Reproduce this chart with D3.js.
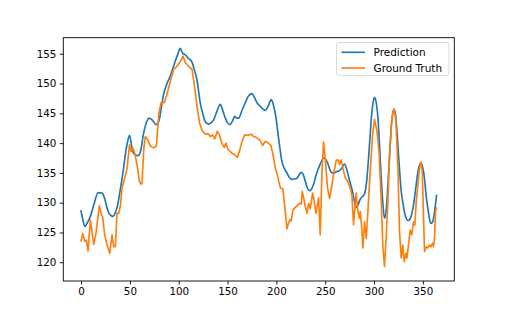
<!DOCTYPE html>
<html>
<head>
<meta charset="utf-8">
<script src="https://cdn.jsdelivr.net/npm/d3@7.9.0/dist/d3.min.js"></script>
<style>
  body { margin: 0; background: #fff; }
  text { font-family: "DejaVu Sans", sans-serif; }
</style>
</head>
<body>
<div id="chart"></div>
<script>
// prediction curve
const predDay = [0, 2, 4, 6, 9.5, 13, 17.4, 21.5, 24, 26.6, 29, 32.7, 35, 37, 42, 47, 49.6, 52.8, 55.6, 58.3,
  60.7, 64.1, 67, 69.5, 72.7, 77, 79.5, 84.5, 88, 91.4, 96.5, 99, 101.6, 104, 106.8, 110.1, 113.6, 116, 118.7, 122,
  124.5, 127.2, 130.6, 133, 135.7, 139, 142.6, 145, 147.7, 150, 152.3, 155, 157.2, 159.5, 161.3, 165, 168.2, 171, 175, 177.5,
  180.1, 184, 188.6, 191.5, 194.8, 196.8, 198.9, 202.3, 205.7, 208, 210.8, 213, 216, 219, 221.1, 223, 225.5, 227.5, 229.6, 231.5,
  233.7, 236, 238.1, 241, 243.2, 246, 248.3, 250.5, 252.4, 254.5, 256.9, 259, 261.3, 264, 266.5, 269.8, 272, 273.9, 276, 278,
  280, 281.8, 284, 285.9, 288, 290.3, 292.2, 294.4, 296.1, 297.8, 299, 300.5, 302, 304, 305.7, 307.4, 309, 310.7, 312.5,
  314.2, 316, 317.6, 320, 321.5, 323.4, 325.5, 327.8, 330, 332, 335, 337, 339.8, 342, 343.9, 346, 348, 350, 351.4, 353.5,
  355.8, 358, 360, 362, 364];
const prediction = [128.6, 127.0, 126.0, 126.5, 127.7, 129.6, 131.7, 131.6, 130.8, 129.1, 128.1, 127.7, 128.3, 129.3, 134.1, 139.7, 141.3, 138.6, 138.0, 137.9,
  138.5, 141.7, 143.5, 144.2, 143.9, 143.1, 143.6, 148.2, 150.0, 151.3, 153.8, 154.9, 155.9, 155.1, 154.8, 154.2, 153.6, 152.3, 150.6, 146.8,
  145.0, 143.6, 143.2, 143.4, 143.9, 145.3, 146.5, 145.5, 144.2, 143.4, 143.1, 143.7, 144.5, 144.2, 144.2, 145.6, 146.8, 147.8, 148.3, 147.7,
  146.8, 146.1, 145.5, 146.2, 147.3, 146.5, 145.0, 140.8, 136.9, 135.8, 135.0, 134.3, 133.9, 134.0, 134.1, 134.6, 135.1, 134.7, 133.6, 132.6,
  132.0, 132.3, 133.1, 134.8, 135.8, 136.9, 137.5, 137.3, 136.7, 135.7, 135.0, 135.0, 135.2, 135.3, 135.7, 136.5, 135.6, 134.4, 133.1, 131.9,
  130.2, 129.2, 129.8, 130.6, 131.0, 131.5, 133.2, 137.5, 141.5, 145.2, 146.8, 147.7, 147.0, 144.2, 139.5, 134.1, 130.0, 127.4, 128.8,
  133.0, 138.0, 142.6, 145.6, 145.3, 142.2, 137.0, 132.0, 129.5, 127.8, 127.0, 127.3, 129.0, 131.5, 134.0, 136.0, 136.7, 135.8, 134.4, 131.0,
  128.3, 126.5, 126.8, 128.5, 131.2];

// ground truth
const truthDay = [0, 1.7, 3.7, 5.4, 7.1, 9.5, 10.5, 12.9, 15.3, 18.7, 20.8, 22.1, 24.2, 26.6, 29.3, 31.7, 33.4, 35.1, 36.8, 38.6,
  40.2, 42, 44.6, 47.1, 49.6, 51.1, 52.8, 54.5, 57.3, 59.7, 61.5, 62.4, 64.3, 65.8, 68.2, 70.9, 74.3, 77.1, 79.5, 81.9,
  85.3, 88, 91.4, 94.8, 98.3, 101.6, 104.4, 106.8, 110.1, 113.6, 116, 118.7, 121.4, 123.8, 127.2, 130, 132.3, 134.6, 136.8, 139.5,
  141.6, 144.3, 146.7, 148.4, 150.4, 152.8, 154.5, 157.2, 160, 162.3, 164.8, 167.5, 170.9, 174.3, 176.7, 180.1, 183.5, 185.9, 188.6, 192,
  194.4, 196.5, 198.9, 201.2, 204, 206.7, 209.1, 210.8, 212.5, 214.2, 215.2, 217, 219.4, 221.7, 223.8, 225.5, 226.5, 227.9, 229.6, 231.3,
  233, 234.7, 237.1, 238.8, 240.5, 243.2, 244.9, 246.7, 248.3, 250, 252.4, 254.5, 256.9, 259.2, 261.3, 263, 264.7, 266.4, 268.8, 270.5,
  272.9, 275.6, 277.4, 279, 280.1, 281.8, 283.1, 284.9, 285.9, 287.6, 288.6, 290.3, 292, 293.7, 296.1, 298.5, 300.5, 303, 305.3, 307.4,
  309.1, 310.7, 312.4, 314.2, 315.9, 318.3, 320.4, 322.4, 324.5, 326.1, 327.8, 329.5, 330.9, 332.6, 333.7, 335.3, 337, 338.7, 340.4, 341.8,
  343.2, 344.9, 346.6, 348, 349.4, 350.7, 351.7, 353.4, 355.1, 356.8, 358.2, 359.9, 360.9, 361.9, 363, 364];
const groundTruth = [123.6, 124.8, 123.5, 123.7, 121.9, 127.1, 126.0, 123.0, 124.9, 129.5, 128.0, 127.6, 124.6, 122.9, 121.5, 124.6, 122.6, 122.6, 128.2, 128.2,
  129.4, 132.5, 134.1, 135.8, 139.7, 138.6, 139.2, 138.6, 136.4, 133.6, 133.1, 133.3, 139.2, 141.1, 140.6, 139.5, 139.2, 139.5, 144.8, 146.8,
  146.8, 148.2, 150.4, 152.4, 152.9, 153.7, 154.6, 153.5, 152.9, 152.4, 149.8, 146.2, 143.4, 142.1, 141.5, 141.6, 141.1, 141.4, 140.7, 142.0,
  141.4, 139.9, 139.3, 140.0, 138.9, 138.6, 138.3, 138.1, 137.6, 138.7, 140.3, 141.4, 141.3, 141.5, 141.1, 140.9, 140.4, 139.6, 140.3, 140.0,
  139.6, 138.1, 135.8, 134.5, 132.5, 132.3, 128.5, 125.6, 126.6, 127.2, 126.9, 128.8, 129.2, 129.6, 129.9, 129.8, 131.9, 130.8, 129.4, 128.2,
  129.9, 129.0, 131.6, 130.2, 128.2, 130.8, 124.6, 135.3, 140.2, 137.5, 132.5, 130.7, 133.0, 135.4, 137.1, 137.2, 136.4, 137.2, 135.3, 134.2,
  133.6, 132.5, 131.1, 126.3, 128.5, 131.6, 129.1, 127.4, 128.5, 125.4, 122.4, 126.8, 124.0, 128.5, 135.3, 141.4, 144.0, 142.0, 138.1, 130.2,
  122.4, 119.3, 124.1, 130.2, 138.1, 144.2, 145.8, 143.7, 135.8, 125.1, 120.7, 122.9, 120.1, 121.5, 120.7, 122.9, 125.4, 124.6, 126.8, 126.2,
  130.2, 133.0, 135.8, 136.8, 135.3, 127.4, 121.8, 122.6, 122.4, 122.9, 122.6, 123.2, 122.6, 124.0, 128.5, 129.1];

const xTicks = [0, 50, 100, 150, 200, 250, 300, 350];
const yTicks = [120, 125, 130, 135, 140, 145, 150, 155];
const seriesNames = ["Prediction", "Ground Truth"];
const seriesColors = ["#1f77b4", "#ff7f0e"];

const width = 505, height = 316;
const margin = {left: 63.3, right: 505 - 454.3, top: 37.7, bottom: 316 - 281};

const svg = d3.select("#chart").append("svg")
    .attr("width", width)
    .attr("height", height);

const x = d3.scaleLinear()
    .domain([-18.2, 382.2])
    .range([margin.left, width - margin.right]);

const y = d3.scaleLinear()
    .domain([116.85, 157.7])
    .range([height - margin.bottom, margin.top]);

const plot = svg.append("g");

const predLine = d3.line()
    .x((d, i) => x(predDay[i]))
    .y(d => y(d))
    .curve(d3.curveMonotoneX);

const truthLine = d3.line()
    .x((d, i) => x(truthDay[i]))
    .y(d => y(d));

plot.append("path")
    .datum(prediction)
    .attr("d", predLine)
    .attr("fill", "none")
    .attr("stroke", seriesColors[0])
    .attr("stroke-width", 1.65)
    .attr("stroke-linejoin", "round")
    .attr("stroke-linecap", "square");

plot.append("path")
    .datum(groundTruth)
    .attr("d", truthLine)
    .attr("fill", "none")
    .attr("stroke", seriesColors[1])
    .attr("stroke-width", 1.65)
    .attr("stroke-linejoin", "round")
    .attr("stroke-linecap", "square");

// axes
const xAxis = svg.append("g")
    .attr("transform", `translate(0,${height - margin.bottom})`)
    .call(d3.axisBottom(x).tickValues(xTicks).tickSize(3.5).tickPadding(3.5).tickSizeOuter(0));

const yAxis = svg.append("g")
    .attr("transform", `translate(${margin.left},0)`)
    .call(d3.axisLeft(y).tickValues(yTicks).tickSize(3.5).tickPadding(3.5).tickSizeOuter(0));

[xAxis, yAxis].forEach(a => {
  a.select(".domain").remove();
  a.selectAll(".tick line").attr("stroke", "#000").attr("stroke-width", 0.9);
  a.selectAll(".tick text")
    .attr("fill", "#000")
    .style("font-size", "10.3px")
    .style("font-family", "'DejaVu Sans', sans-serif");
});

// frame
svg.append("rect")
    .attr("x", margin.left)
    .attr("y", margin.top)
    .attr("width", width - margin.right - margin.left)
    .attr("height", height - margin.bottom - margin.top)
    .attr("fill", "none")
    .attr("stroke", "#000")
    .attr("stroke-width", 0.9);

// legend
const legend = svg.append("g");
legend.append("rect")
    .attr("x", 336.5)
    .attr("y", 42.5)
    .attr("width", 112.5)
    .attr("height", 33)
    .attr("rx", 2.5)
    .attr("fill", "#fff")
    .attr("fill-opacity", 0.8)
    .attr("stroke", "#d6d6d6")
    .attr("stroke-width", 0.9);

seriesNames.forEach((name, i) => {
  const ly = 52.3 + i * 15.7;
  legend.append("line")
      .attr("x1", 341.5).attr("x2", 365)
      .attr("y1", ly).attr("y2", ly)
      .attr("stroke", seriesColors[i])
      .attr("stroke-width", 1.65);
  legend.append("text")
      .attr("x", 373.5)
      .attr("y", ly)
      .attr("dy", "0.36em")
      .style("font-size", "10.5px")
      .attr("fill", "#000")
      .text(name);
});
</script>
</body>
</html>
